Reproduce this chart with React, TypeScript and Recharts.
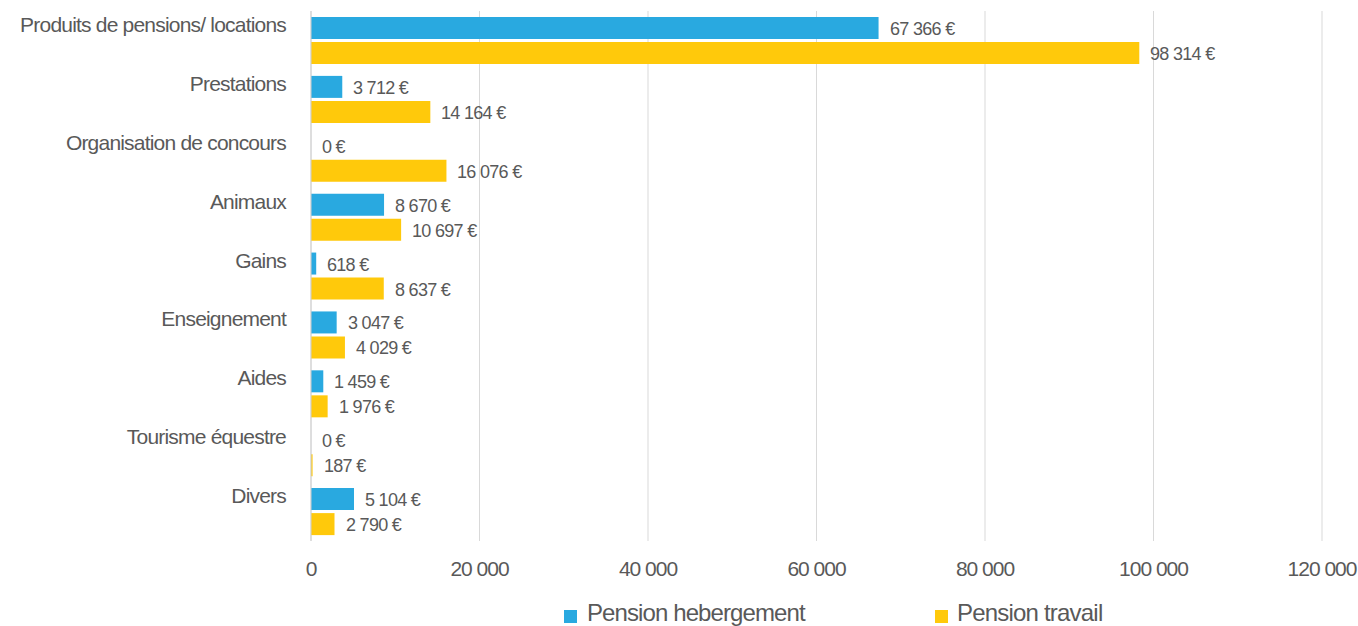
import React from 'react';
import { BarChart, Bar, XAxis, YAxis, CartesianGrid, Legend, LabelList } from 'recharts';

const categories = [
  'Produits de pensions/ locations',
  'Prestations',
  'Organisation de concours',
  'Animaux',
  'Gains',
  'Enseignement',
  'Aides',
  'Tourisme équestre',
  'Divers',
];
const hebergement = [67366, 3712, 0, 8670, 618, 3047, 1459, 0, 5104];
const travail = [98314, 14164, 16076, 10697, 8637, 4029, 1976, 187, 2790];
const xTicks = [0, 20000, 40000, 60000, 80000, 100000, 120000];
const seriesNames = ['Pension hebergement', 'Pension travail'];

const data = categories.map((name, i) => ({ name, heb: hebergement[i], trav: travail[i] }));

const BLUE = '#29A9E0';
const YELLOW = '#FFC90B';
const TEXT = '#595959';
const FONT = '"Liberation Sans", Arial, sans-serif';

const fmt = (v: number) => String(v).replace(/\B(?=(\d{3})+(?!\d))/g, ' ');

const XTick = (props: any) => {
  const { x, y, payload } = props;
  return (
    <text x={x} y={y} dy={27} textAnchor="middle" fill={TEXT} fontSize={21} letterSpacing={-1} fontFamily={FONT}>
      {fmt(payload.value)}
    </text>
  );
};

const YTick = (props: any) => {
  const { x, y, payload } = props;
  return (
    <text x={x - 17} y={y - 8.5} textAnchor="end" fill={TEXT} fontSize={21} letterSpacing={-0.8} fontFamily={FONT}>
      {payload.value}
    </text>
  );
};

const ValueLabel = (props: any) => {
  const { x, y, width, height, value } = props;
  const w = Math.max(0, Math.round(width || 0));
  return (
    <text x={x + w + 11} y={y + height / 2 + 7} fill={TEXT} fontSize={18} letterSpacing={-0.7} fontFamily={FONT}>
      {fmt(value) + ' €'}
    </text>
  );
};

const LegendContent = () => (
  <div style={{ position: 'relative', width: 1358, height: 36, fontFamily: FONT, color: TEXT }}>
    <div style={{ position: 'absolute', left: 564, top: 20, width: 13, height: 13, background: BLUE }} />
    <div style={{ position: 'absolute', left: 587, top: 8, fontSize: 24, letterSpacing: -0.9, lineHeight: '30px', whiteSpace: 'nowrap' }}>
      {seriesNames[0]}
    </div>
    <div style={{ position: 'absolute', left: 935, top: 20, width: 13, height: 13, background: YELLOW }} />
    <div style={{ position: 'absolute', left: 957, top: 8, fontSize: 24, letterSpacing: -0.8, lineHeight: '30px', whiteSpace: 'nowrap' }}>
      {seriesNames[1]}
    </div>
  </div>
);

export default function App() {
  return (
    <div style={{ position: 'absolute', left: 0, top: 0, width: 1358, height: 626, background: '#fff' }}>
      <BarChart
        width={1358}
        height={626}
        data={data}
        layout="vertical"
        margin={{ top: 11, right: 36, left: 0, bottom: 0 }}
        barSize={22}
        barGap={3}
      >
        <CartesianGrid horizontal={false} stroke="#D9D9D9" />
        <XAxis
          type="number"
          domain={[0, 120000]}
          ticks={xTicks}
          axisLine={false}
          tickLine={false}
          height={49}
          tick={<XTick />}
          interval={0}
        />
        <YAxis
          type="category"
          dataKey="name"
          width={311}
          axisLine={{ stroke: '#D0D0D0' }}
          tickLine={false}
          tick={<YTick />}
          interval={0}
        />
        <Legend
          verticalAlign="bottom"
          content={<LegendContent />}
          wrapperStyle={{ position: 'absolute', left: 0, top: 590, width: 1358, height: 36 }}
        />
        <Bar dataKey="heb" name={seriesNames[0]} fill={BLUE} minPointSize={0.01} isAnimationActive={false}>
          <LabelList dataKey="heb" content={<ValueLabel />} />
        </Bar>
        <Bar dataKey="trav" name={seriesNames[1]} fill={YELLOW} minPointSize={0.01} isAnimationActive={false}>
          <LabelList dataKey="trav" content={<ValueLabel />} />
        </Bar>
      </BarChart>
    </div>
  );
}
